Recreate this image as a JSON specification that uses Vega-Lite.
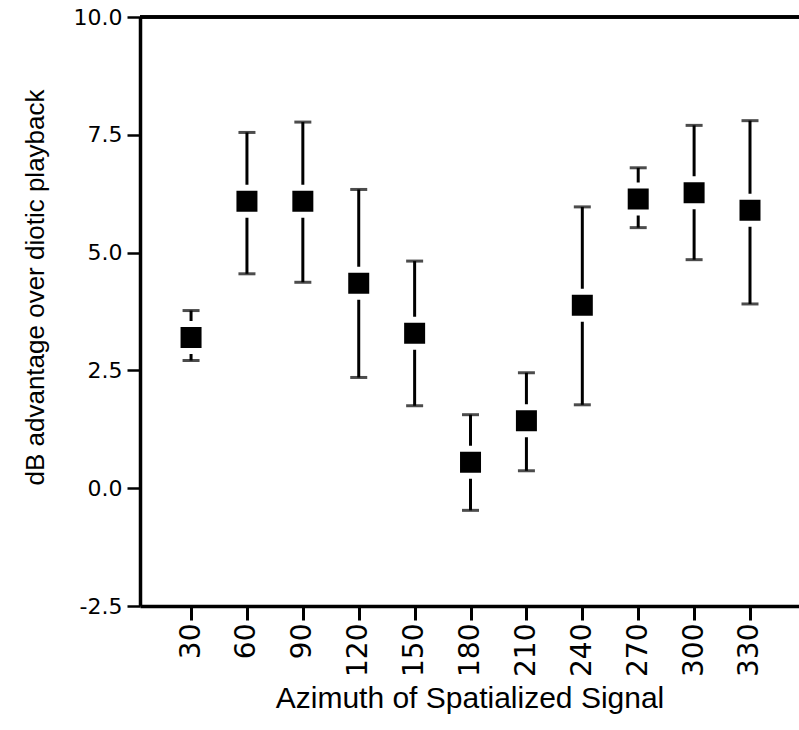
{
  "$schema": "https://vega.github.io/schema/vega-lite/v6.json",
  "autosize": {"type": "none"},
  "width": 659,
  "height": 589,
  "padding": {"left": 140, "top": 17, "right": 0, "bottom": 124},
  "background": "white",
  "config": {
    "view": {"stroke": null},
    "axis": {"grid": false, "labelFlush": false, "labelOverlap": false, "labelColor": "black", "tickColor": "black", "domainColor": "black", "titleColor": "black", "titleFontWeight": "normal"}
  },
  "data": {
    "values": [
      {"azimuth": 30, "mean": 3.20, "lo": 2.71, "hi": 3.77},
      {"azimuth": 60, "mean": 6.09, "lo": 4.55, "hi": 7.55},
      {"azimuth": 90, "mean": 6.09, "lo": 4.37, "hi": 7.77},
      {"azimuth": 120, "mean": 4.35, "lo": 2.35, "hi": 6.34},
      {"azimuth": 150, "mean": 3.29, "lo": 1.75, "hi": 4.82},
      {"azimuth": 180, "mean": 0.55, "lo": -0.47, "hi": 1.56},
      {"azimuth": 210, "mean": 1.43, "lo": 0.37, "hi": 2.45},
      {"azimuth": 240, "mean": 3.88, "lo": 1.77, "hi": 5.97},
      {"azimuth": 270, "mean": 6.14, "lo": 5.53, "hi": 6.80},
      {"azimuth": 300, "mean": 6.27, "lo": 4.85, "hi": 7.70},
      {"azimuth": 330, "mean": 5.90, "lo": 3.91, "hi": 7.80}
    ]
  },
  "layer": [
    {
      "mark": {"type": "rule", "color": "black", "strokeWidth": 3},
      "encoding": {
        "x": {
          "field": "azimuth", "type": "quantitative",
          "scale": {"domain": [2.6, 356.3], "nice": false, "zero": false},
          "axis": {
            "title": "Azimuth of Spatialized Signal",
            "values": [30, 60, 90, 120, 150, 180, 210, 240, 270, 300, 330],
            "labelAngle": 270,
            "labelFont": "DejaVu Sans", "labelFontSize": 28,
            "labelPadding": 3,
            "tickSize": 14, "tickWidth": 3,
            "domainWidth": 3.5,
            "titleFont": "Liberation Sans", "titleFontSize": 30,
            "titlePadding": 7
          }
        },
        "y": {
          "field": "lo", "type": "quantitative",
          "scale": {"domain": [-2.5, 10], "nice": false, "zero": false},
          "axis": {
            "title": "dB advantage over diotic playback",
            "values": [-2.5, 0, 2.5, 5, 7.5, 10],
            "format": ".1f",
            "labelExpr": "replace(datum.label, '−', '-')",
            "labelFont": "DejaVu Sans", "labelFontSize": 22,
            "labelPadding": 5,
            "tickSize": 13, "tickWidth": 2.5,
            "domainWidth": 3.5,
            "titleFont": "Liberation Sans", "titleFontSize": 26,
            "titlePadding": 25,
            "titleY": 270
          }
        },
        "y2": {"field": "hi"}
      }
    },
    {
      "mark": {"type": "rule", "color": "black", "strokeWidth": 2.5},
      "encoding": {"y": {"datum": 10, "type": "quantitative", "title": "dB advantage over diotic playback"}}
    },
    {
      "mark": {"type": "tick", "orient": "horizontal", "color": "black", "thickness": 3, "size": 17},
      "encoding": {
        "x": {"field": "azimuth", "type": "quantitative", "title": "Azimuth of Spatialized Signal"},
        "y": {"field": "lo", "type": "quantitative", "title": "dB advantage over diotic playback"}
      }
    },
    {
      "mark": {"type": "tick", "orient": "horizontal", "color": "black", "thickness": 3, "size": 17},
      "encoding": {
        "x": {"field": "azimuth", "type": "quantitative", "title": "Azimuth of Spatialized Signal"},
        "y": {"field": "hi", "type": "quantitative", "title": "dB advantage over diotic playback"}
      }
    },
    {
      "mark": {"type": "point", "shape": "square", "filled": true, "fill": "black", "stroke": "white", "strokeWidth": 6, "size": 729, "opacity": 1},
      "encoding": {
        "x": {"field": "azimuth", "type": "quantitative", "title": "Azimuth of Spatialized Signal"},
        "y": {"field": "mean", "type": "quantitative", "title": "dB advantage over diotic playback"}
      }
    }
  ]
}
